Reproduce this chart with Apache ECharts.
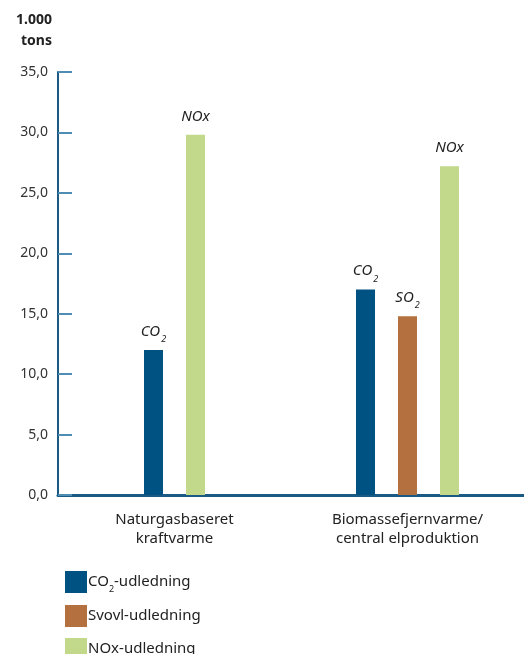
<!DOCTYPE html>
<html><head><meta charset="utf-8">
<script src="https://cdn.jsdelivr.net/npm/echarts@6/dist/echarts.min.js"></script>
<style>html,body{margin:0;padding:0;background:#fff}#c{width:524px;height:654px}</style>
</head><body><div id="c"></div>
<script>
var categories = ['Naturgasbaseret\nkraftvarme', 'Biomassefjernvarme/\ncentral elproduktion'];
var co2 = [12.0, 17.0];
var so2 = [null, 14.8];
var nox = [29.8, 27.2];
var seriesNames = ['CO2-udledning', 'Svovl-udledning', 'NOx-udledning'];
var barLabels = ['{i|CO}{s|2}', '{i|SO}{s|2}', '{i|NOx}'];
var colors = ['#005282', '#b57040', '#c2d88a'];
var yTicks = { min: 0, max: 35, interval: 5 };

var FONT = 'Noto Sans';
var labelRich = {
  i: { fontFamily: FONT, fontStyle: 'italic', fontSize: 15, color: '#222', lineHeight: 19 },
  s: { fontFamily: FONT, fontStyle: 'italic', fontSize: 9, color: '#222', verticalAlign: 'bottom', lineHeight: 10, padding: [0,0,-3,1] }
};
function mk(name, idx, vals, group, axis) {
  var d = vals.map(function (v, k) { return k === group ? v : null; });
  return {
    name: name, type: 'bar', xAxisIndex: axis, data: d,
    barWidth: 19, barGap: '121%',
    itemStyle: { color: colors[idx] },
    label: { show: true, position: 'top', distance: 9, formatter: barLabels[idx], rich: labelRich },
    emphasis: { disabled: true }
  };
}
var series = [
  mk(seriesNames[0], 0, co2, 0, 1),
  mk(seriesNames[2], 2, nox, 0, 1),
  mk(seriesNames[0], 0, co2, 1, 0),
  mk(seriesNames[1], 1, so2, 1, 0),
  mk(seriesNames[2], 2, nox, 1, 0)
];
var chart = echarts.init(document.getElementById('c'), null, { renderer: 'canvas' });
chart.setOption({
  animation: false,
  grid: { left: 58, right: 0, top: 72, bottom: 159, containLabel: false },
  legend: {
    orient: 'vertical', left: 60, top: 566, height: 200, itemWidth: 22, itemHeight: 22, itemGap: 11,
    icon: 'rect', data: seriesNames,
    formatter: function (n) {
      if (n === seriesNames[0]) return '{a|CO}{s|2}{a|-udledning}';
      return '{a|' + n + '}';
    },
    textStyle: {
      fontFamily: FONT, fontSize: 15, color: '#222', padding: [0,0,0,-4],
      rich: {
        a: { fontFamily: FONT, fontSize: 15, color: '#222', lineHeight: 18 },
        s: { fontFamily: FONT, fontSize: 9, color: '#222', verticalAlign: 'bottom', lineHeight: 10, padding: [0,0,-3,0] }
      }
    }
  },
  xAxis: [
    {
      type: 'category', data: categories,
      axisLine: { show: true, lineStyle: { color: '#1b5a85', width: 3 } },
      axisTick: { show: false },
      axisLabel: { fontFamily: FONT, fontSize: 15, color: '#222', margin: 15, lineHeight: 19 }
    },
    { type: 'category', data: categories, show: false }
  ],
  yAxis: {
    type: 'value', min: yTicks.min, max: yTicks.max, interval: yTicks.interval,
    name: '1.000\ntons', nameLocation: 'end', nameGap: 20,
    nameTextStyle: { fontFamily: FONT, fontSize: 14, fontWeight: 'bold', color: '#222', align: 'right', lineHeight: 21, padding: [0, 6, 0, 0] },
    axisLine: { show: true, lineStyle: { color: '#1b5a85', width: 2 } },
    axisTick: { show: true, inside: true, length: 14, lineStyle: { color: '#4f8db5', width: 2 } },
    splitLine: { show: false },
    axisLabel: {
      fontFamily: FONT, fontSize: 14, color: '#333', margin: 10,
      formatter: function (v) { return v.toFixed(1).replace('.', ','); }
    }
  },
  series: series
});
</script></body></html>
